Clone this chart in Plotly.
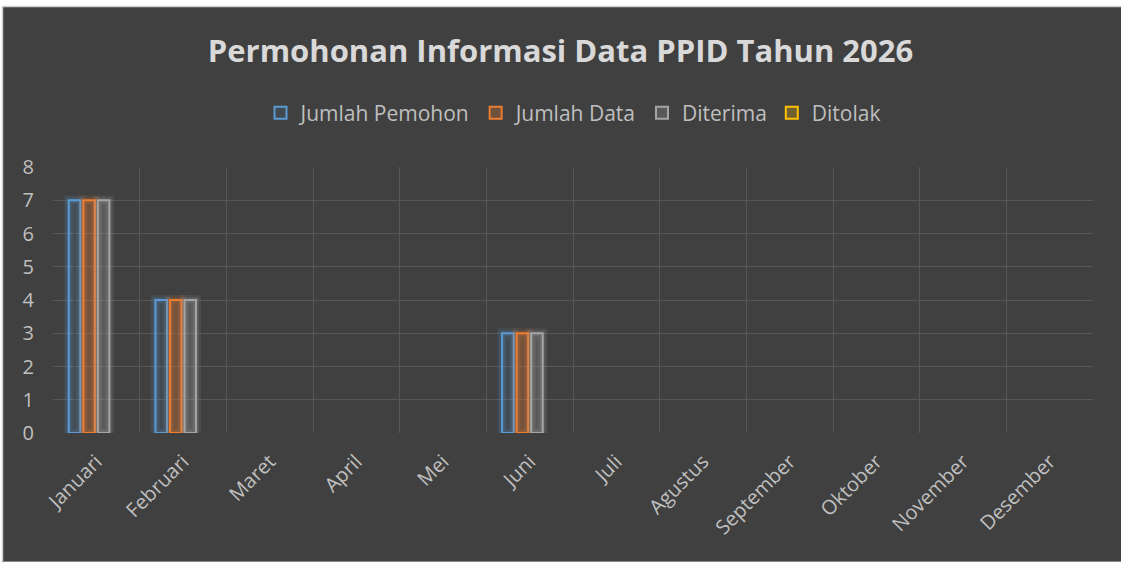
import plotly.graph_objects as go

months = ["Januari", "Februari", "Maret", "April", "Mei", "Juni", "Juli",
          "Agustus", "September", "Oktober", "November", "Desember"]
jumlah_pemohon = [7, 4, 0, 0, 0, 3, 0, 0, 0, 0, 0, 0]
jumlah_data = [7, 4, 0, 0, 0, 3, 0, 0, 0, 0, 0, 0]
diterima = [7, 4, 0, 0, 0, 3, 0, 0, 0, 0, 0, 0]
ditolak = [0, 0, 0, 0, 0, 0, 0, 0, 0, 0, 0, 0]

series = [
    ("Jumlah Pemohon", jumlah_pemohon, (91, 155, 213), 0.10),
    ("Jumlah Data", jumlah_data, (237, 125, 49), 0.28),
    ("Diterima", diterima, (165, 165, 165), 0.25),
    ("Ditolak", ditolak, (255, 192, 0), 0.25),
]

def rgba(c, a):
    return "rgba(%d,%d,%d,%.3f)" % (c[0], c[1], c[2], a)

fig = go.Figure()
for i, (name, vals, c, fa) in enumerate(series):
    yv = [v if v else None for v in vals]
    # soft glow behind each bar
    for w, a in ((10, 0.10), (6, 0.16)):
        fig.add_trace(go.Bar(
            x=months, y=yv, name=name, offsetgroup=str(i),
            showlegend=False, hoverinfo="skip",
            marker=dict(color="rgba(0,0,0,0)", line=dict(color=rgba(c, a), width=w)),
        ))
    fig.add_trace(go.Bar(
        x=months, y=yv, name=name, offsetgroup=str(i),
        marker=dict(color=rgba(c, fa), line=dict(color=rgba(c, 1), width=2)),
    ))

W, H = 1121, 562
ml, mr, mt, mb = 53, 28, 167, 129
ph = H - mt - mb
pw = W - ml - mr

def py(pix):
    return 1 - (pix - mt) / ph

def px(pix):
    return (pix - ml) / pw

fig.update_layout(
    width=W, height=H,
    margin=dict(l=ml, r=mr, t=mt, b=mb),
    paper_bgcolor="#404040",
    plot_bgcolor="#404040",
    barmode="group",
    bargap=0.33,
    bargroupgap=0.2,
    font=dict(family="Open Sans, sans-serif", color="#bfbfbf"),
    title=dict(
        text="<b>Permohonan Informasi Data PPID Tahun 2026</b>",
        x=0.5, xanchor="center", y=1 - 51 / H, yanchor="middle",
        font=dict(size=31, color="#d9d9d9", family="Open Sans, sans-serif"),
    ),
    legend=dict(
        orientation="h", x=0.5, xanchor="center", y=py(113), yanchor="middle",
        font=dict(size=21, color="#bfbfbf"),
        itemwidth=30,
    ),
    xaxis=dict(
        type="category",
        tickson="boundaries",
        showgrid=True, gridcolor="#575757", gridwidth=1,
        tickangle=-45,
        tickfont=dict(size=20, color="#bfbfbf"),
        ticklabelstandoff=12,
        showline=False, zeroline=False,
        ticks="",
    ),
    yaxis=dict(
        range=[0, 8], dtick=1,
        showgrid=True, gridcolor="#575757", gridwidth=1,
        zeroline=False,
        tickfont=dict(size=20, color="#bfbfbf"),
        ticklabelstandoff=18,
        ticks="",
    ),
    shapes=[
        dict(type="rect", xref="paper", yref="paper",
             x0=px(-5), x1=px(W + 5), y0=py(6), y1=py(-5),
             fillcolor="white", line=dict(width=0), layer="above"),
        dict(type="rect", xref="paper", yref="paper",
             x0=px(-5), x1=px(2), y0=py(H + 5), y1=py(-5),
             fillcolor="white", line=dict(width=0), layer="above"),
        dict(type="line", xref="paper", yref="paper",
             x0=px(2), x1=px(W), y0=py(6.5), y1=py(6.5),
             line=dict(color="#d0d0d0", width=1.5), layer="above"),
        dict(type="line", xref="paper", yref="paper",
             x0=px(2.5), x1=px(2.5), y0=py(H), y1=py(6),
             line=dict(color="#d0d0d0", width=1.5), layer="above"),
        dict(type="line", xref="paper", yref="paper",
             x0=px(2), x1=px(W), y0=py(H - 0.5), y1=py(H - 0.5),
             line=dict(color="#8a8a8a", width=1), layer="above"),
    ],
)

fig.write_html("out.html", config={"displayModeBar": False},
               post_script="document.body.style.margin='0';")
